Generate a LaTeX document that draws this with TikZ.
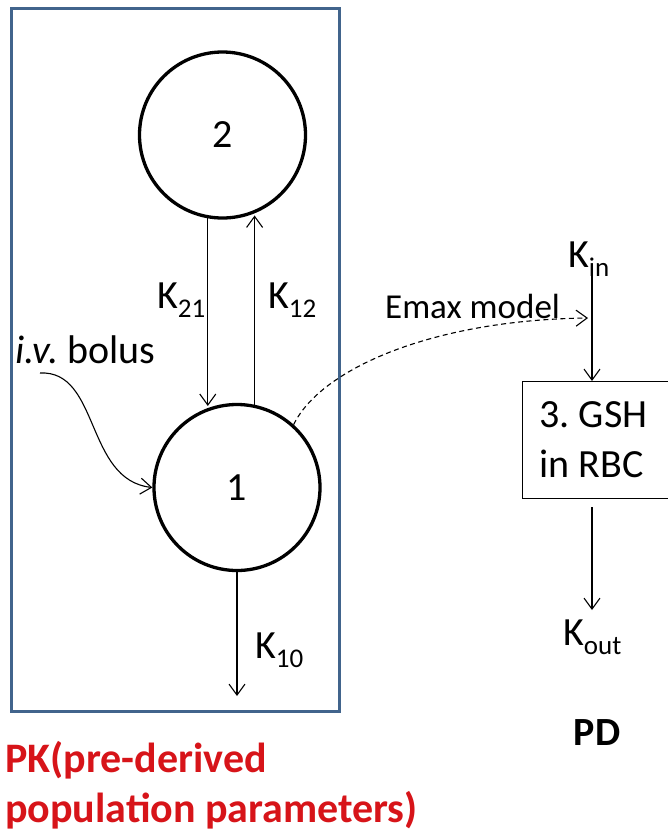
\documentclass[tikz,border=0pt]{standalone}
\usepackage{fontspec}
\setmainfont{Carlito}
\usetikzlibrary{arrows.meta}
\definecolor{pkblue}{RGB}{65,100,140}
\definecolor{pkred}{RGB}{215,20,25}
\newcommand{\Kx}[1]{K\raisebox{-9pt}{\fontsize{27}{27}\selectfont #1}}
\frenchspacing
\begin{document}
\begin{tikzpicture}[x=1pt,y=-1pt,
  every node/.style={font=\fontsize{40}{50}\selectfont},
  >={Straight Barb[length=11pt,width=16pt]},
  comp/.style={circle, draw, line width=3.3pt, minimum size=166pt, inner sep=0pt},
  lbl/.style={inner sep=0pt, anchor=base west},
  flow/.style={->, line width=1.1pt}]
\useasboundingbox (0,0) rectangle (668,831);
\fill[white] (0,0) rectangle (668,831);
% PK compartment frame
\node[draw=pkblue, line width=3pt, minimum width=328pt, minimum height=703pt, inner sep=0pt] (pk) at (175,359.5) {};
\node[comp] (c2) at (222.5,135) {2};
\node[comp] (c1) at (237,487.5) {1};
% inter-compartment arrows
\draw[flow, shorten >=2pt] (c2.260) -- (c2.260 |- c1.110);
\draw[flow, shorten >=2pt] (c1.78) -- (c1.78 |- c2.292);
\node[lbl] (k21) at (157,308) {\Kx{21}};
\node[lbl] (k12) at (268,308) {\Kx{12}};
% elimination
\coordinate (k10e) at (237,696);
\draw[flow] (c1.south) -- (c1.south |- k10e);
\node[lbl] (k10) at (255,658) {\Kx{10}};
% bolus
\node[lbl] (bolus) at (15,363) {\textit{i.v.} bolus};
\coordinate (b0) at (40,373);
\draw[flow] (b0) .. controls (100,370) and (85,480) .. (c1.west);
% PD part
\node[lbl] (kin) at (568,267) {\Kx{in}};
\coordinate (kin0) at (592,272);
\node[draw, line width=1.1pt, anchor=north west, minimum width=160pt, minimum height=117pt,
      text width=126pt, inner xsep=17pt, inner ysep=0pt, align=flush left] (gsh) at (522,381) {3. GSH\\in RBC};
\draw[flow] (kin0) -- (kin0 |- gsh.north);
\coordinate (kout0) at (592,610);
\draw[flow, shorten <=8pt] (kin0 |- gsh.south) -- (kout0);
\node[lbl] (kout) at (563,645) {\Kx{out}};
% Emax link
\node[lbl, font=\fontsize{35}{42}\selectfont] (emax) at (385,318) {Emax model};
\coordinate (e1) at (588,318);
\draw[flow, dash pattern=on 5pt off 3.5pt] (c1.48) .. controls (320,370) and (430,320) .. (e1);
% titles
\node[inner sep=0pt, anchor=base, font=\fontsize{40}{50}\selectfont\bfseries] (pd) at (597,745) {PD};
\node[lbl, text=pkred, font=\fontsize{42}{50}\selectfont\bfseries, align=left] (pklbl) at (5,822) {PK(pre-derived\\population parameters)};
\end{tikzpicture}
\end{document}
